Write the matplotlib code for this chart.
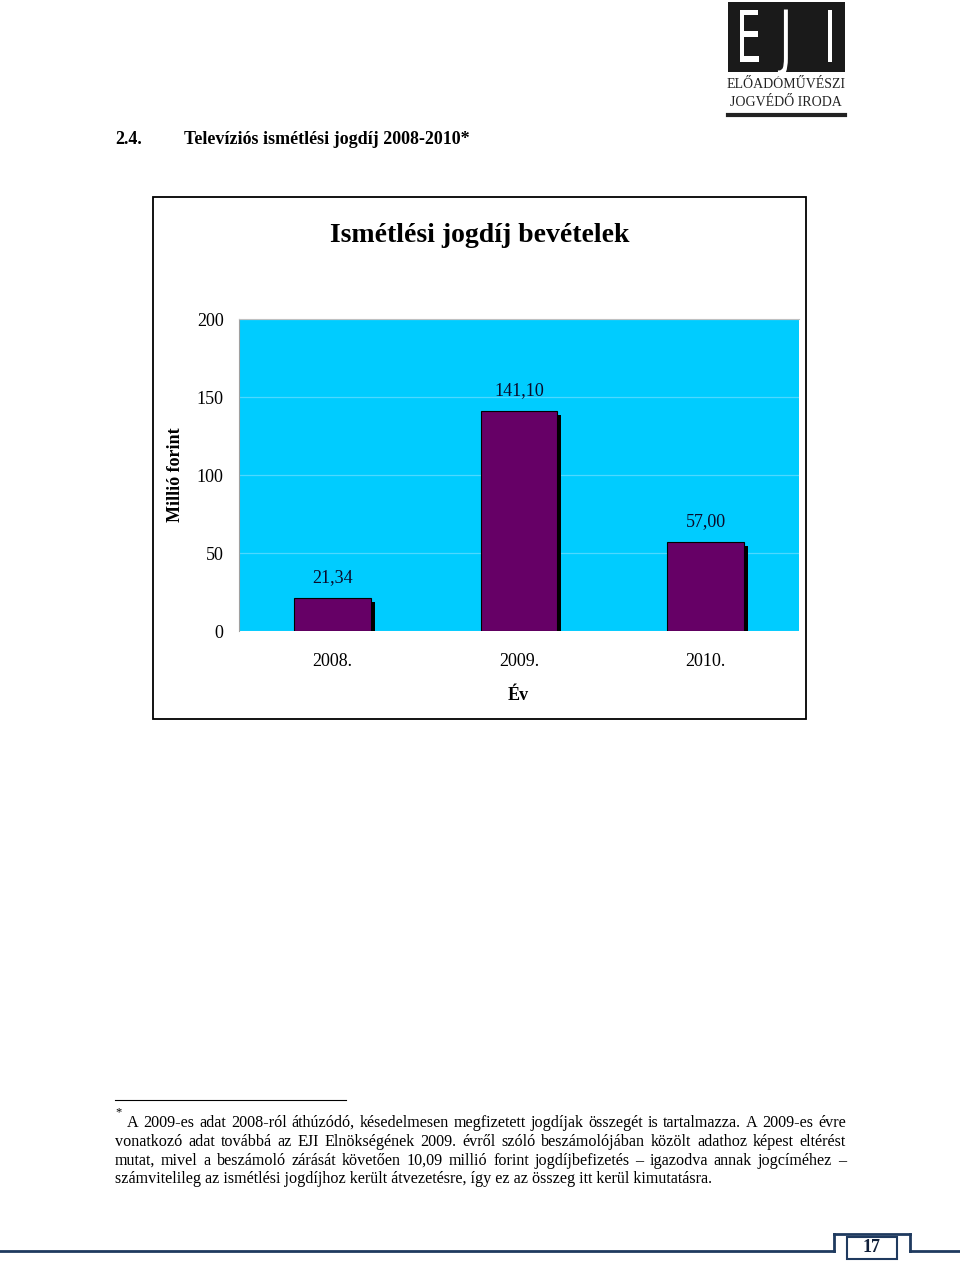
import matplotlib
matplotlib.use('Agg')

import numpy
import matplotlib.pyplot as plt
from matplotlib.patches import Rectangle, PathPatch
from matplotlib.textpath import TextPath
from matplotlib.font_manager import FontProperties
from matplotlib.transforms import Affine2D

plt.rcParams['font.family'] = ['Liberation Serif', 'DejaVu Serif']

years = ['2008.', '2009.', '2010.']
values = [21.34, 141.10, 57.00]
value_labels = ['21,34', '141,10', '57,00']
yticks = [0, 50, 100, 150, 200]

footnote = [
    "A 2009-es adat 2008-ról áthúzódó, késedelmesen megfizetett jogdíjak összegét is tartalmazza. A 2009-es évre",
    "vonatkozó adat továbbá az EJI Elnökségének 2009. évről szóló beszámolójában közölt adathoz képest eltérést",
    "mutat, mivel a beszámoló zárását követően 10,09 millió forint jogdíjbefizetés – igazodva annak jogcíméhez –",
    "számvitelileg az ismétlési jogdíjhoz került átvezetésre, így ez az összeg itt kerül kimutatásra.",
]

W, H = 960, 1264
fig = plt.figure(figsize=(W / 100, H / 100), dpi=100)
fig.patch.set_facecolor('white')


def px(x, y):
    # pixel position (top-left origin) -> figure fraction
    return x / W, 1 - y / H


def rect(x0, y0, x1, y1, **kw):
    fx, fy = px(x0, y1)
    fig.patches.append(Rectangle((fx, fy), (x1 - x0) / W, (y1 - y0) / H,
                                 transform=fig.transFigure, **kw))


def hline(x0, x1, y, **kw):
    fig.add_artist(plt.Line2D([x0 / W, x1 / W], [1 - y / H, 1 - y / H],
                              transform=fig.transFigure, **kw))


def vline(x, y0, y1, **kw):
    fig.add_artist(plt.Line2D([x / W, x / W], [1 - y0 / H, 1 - y1 / H],
                              transform=fig.transFigure, **kw))


# logo
rect(728, 2, 845, 72, facecolor='#1a1a1a', edgecolor='none', zorder=1)
fp = FontProperties(family='DejaVu Sans', weight='normal')
for lx, letter in zip([736, 780, 824], ['E', 'J', 'I']):
    tp = TextPath((0, 0), letter, size=1, prop=fp)
    tr = Affine2D().scale(40 / W, 72 / H).translate(lx / W, 1 - 62 / H) + fig.transFigure
    fig.add_artist(PathPatch(tp, transform=tr, facecolor='white', edgecolor='none', zorder=5))
fig.text(*px(786, 85), 'ELŐADÓMŰVÉSZI', fontsize=10, ha='center', va='center', color='#222222')
fig.text(*px(786, 102), 'JOGVÉDŐ IRODA', fontsize=10, ha='center', va='center', color='#222222')
hline(728, 845, 115, color='#222222', lw=3)

# section heading
fig.text(*px(115, 139), '2.4.', fontsize=13, weight='bold', va='center')
fig.text(*px(184, 139), 'Televíziós ismétlési jogdíj 2008-2010*', fontsize=13, weight='bold', va='center')

# chart frame
rect(153, 197, 806, 719, facecolor='none', edgecolor='black', lw=1.3)
fig.text(*px(480, 235), 'Ismétlési jogdíj bevételek', fontsize=20, weight='bold',
         ha='center', va='center')

ax_l, ax_b = px(239, 631)
ax = fig.add_axes([ax_l, ax_b, 560 / W, 312 / H])
ax.set_facecolor('#00CCFF')

ind = numpy.arange(len(years))
width = 0.41
ax.bar(ind + 0.022, numpy.array(values) - 2.6, width, color='black', zorder=2)
ax.bar(ind, values, width, color='#660066', edgecolor='black', linewidth=0.8, zorder=3)
for i, v in enumerate(values):
    ax.text(ind[i], v + 13, value_labels[i], ha='center', va='center', fontsize=13, color='#0a0a2a')

ax.set_xlim(-0.5, 2.5)
ax.set_ylim(0, 200)
ax.set_yticks(yticks)
ax.set_yticklabels([str(t) for t in yticks], fontsize=13)
ax.set_xticks(ind)
ax.set_xticklabels(years, fontsize=13)
ax.tick_params(length=0)
ax.tick_params(axis='y', pad=11)
ax.tick_params(axis='x', pad=16)
ax.yaxis.grid(True, color='#4dd8ff', lw=0.9, zorder=1)
ax.set_axisbelow(True)
for s in ax.spines.values():
    s.set_visible(False)
ax.spines['left'].set_visible(True)
ax.spines['left'].set_color('#a0a0a0')
ax.spines['left'].set_linewidth(0.8)
ax.spines['top'].set_visible(True)
ax.spines['top'].set_color('#c0c0c0')
ax.spines['top'].set_linewidth(0.8)

fig.text(*px(175, 475), 'Millió forint', fontsize=13, weight='bold', rotation=90,
         ha='center', va='center')
fig.text(*px(518, 695), 'Év', fontsize=13, weight='bold', ha='center', va='center')

# footnote
hline(115, 346, 1100, color='black', lw=0.8)
fig.text(*px(115, 1112), '*', fontsize=9, va='center')
renderer = fig.canvas.get_renderer()
line_y = [1123, 1142, 1161, 1179]
for n, line in enumerate(footnote):
    x0 = 127 if n == 0 else 115
    x1 = 846
    words = line.split(' ')
    if n == len(footnote) - 1:
        fig.text(*px(x0, line_y[n]), line, fontsize=11.6, va='center')
        continue
    objs = [fig.text(0, 0, w, fontsize=11.6, va='center') for w in words]
    widths = [o.get_window_extent(renderer).width for o in objs]
    gap = (x1 - x0 - sum(widths)) / (len(words) - 1)
    x = x0
    for o, w in zip(objs, widths):
        o.set_position(px(x, line_y[n]))
        x += w + gap

# page footer
navy = '#1f3a5f'
hline(0, 834, 1251, color=navy, lw=2)
vline(834, 1251, 1234, color=navy, lw=2)
hline(834, 910, 1234, color=navy, lw=2)
vline(910, 1234, 1251, color=navy, lw=2)
hline(910, 960, 1251, color=navy, lw=2)
rect(847, 1237, 897, 1259, facecolor='white', edgecolor=navy, lw=1.5)
fig.text(*px(872, 1248), '17', fontsize=13, weight='bold', ha='center', va='center', color='#10203a')

plt.savefig('out.png', dpi=100)
